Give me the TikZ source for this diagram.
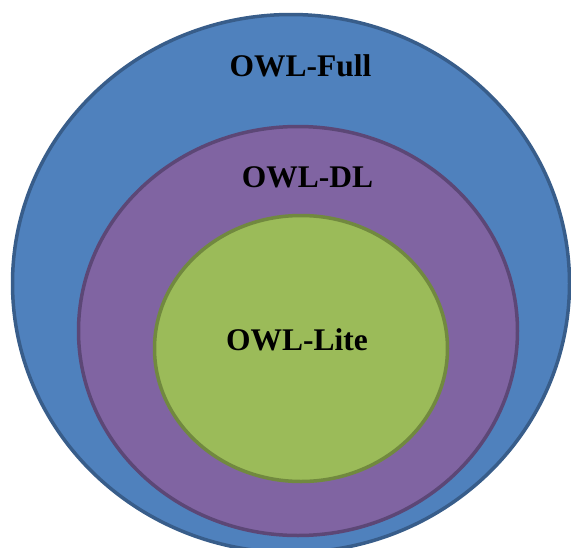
\documentclass[tikz,border=0pt]{standalone}
\usepackage{fontspec}
\setmainfont{Liberation Serif}
\definecolor{fullfill}{HTML}{4F81BD}
\definecolor{fulldraw}{HTML}{385D8A}
\definecolor{dlfill}{HTML}{8064A2}
\definecolor{dldraw}{HTML}{5C4776}
\definecolor{litefill}{HTML}{9BBB59}
\definecolor{litedraw}{HTML}{71893F}
\tikzset{
  ring/.style={line width=3.5pt},
  label/.style={font=\bfseries\fontsize{31.5}{34}\selectfont, anchor=base, inner sep=0pt, text=black}
}
\begin{document}
\begin{tikzpicture}[x=1pt,y=-1pt]
\useasboundingbox (0,0) rectangle (571,547);
\clip (0,0) rectangle (571,547);
\draw[ring, fill=fullfill, draw=fulldraw] (291,283.5) ellipse [x radius=278.5, y radius=269];
\draw[ring, fill=dlfill, draw=dldraw] (298,331) ellipse [x radius=219.5, y radius=204.5];
\draw[ring, fill=litefill, draw=litedraw] (301,348.5) ellipse [x radius=146.5, y radius=133];
\node[label] (full) at (300.5,76) {OWL-Full};
\node[label] (dl) at (307.5,187) {OWL-DL};
\node[label] (lite) at (297,350) {OWL-Lite};
\end{tikzpicture}
\end{document}
